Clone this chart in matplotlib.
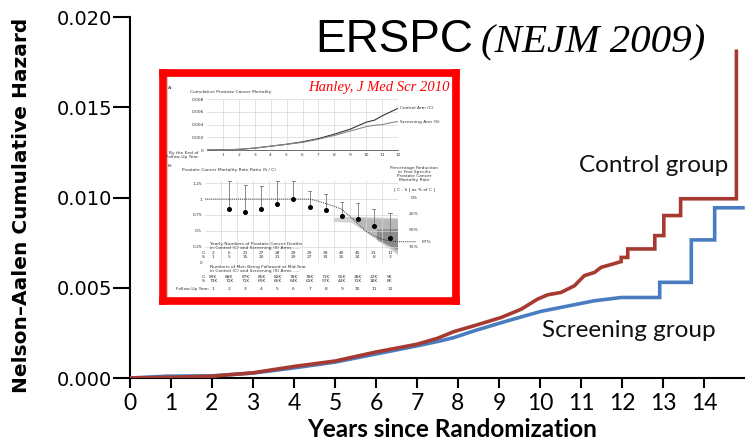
import matplotlib
matplotlib.use("Agg")
import matplotlib.pyplot as plt
from matplotlib.patches import Polygon
from matplotlib import font_manager

# ---------------- main chart data (repeated times = vertical steps) ----------------
control_t = [0, 1.0, 2.0, 3.0, 4.0, 5.0, 6.0, 7.0, 7.5, 7.9, 8.4, 9.05, 9.54, 9.94,
             10.19, 10.51, 10.84, 11.08, 11.33, 11.49, 11.8, 11.98, 11.98, 12.14,
             12.14, 12.8, 12.8, 13.02, 13.02, 13.43, 13.43, 14.79, 14.79]
control_v = [0, 0.00004, 0.0001, 0.00029, 0.00064, 0.00094, 0.00144, 0.00187, 0.0022,
             0.00257, 0.0029, 0.00335, 0.00381, 0.00437, 0.00461, 0.00474, 0.00511,
             0.00567, 0.00585, 0.00613, 0.00633, 0.00645, 0.00668, 0.00668, 0.00715,
             0.00715, 0.00789, 0.00789, 0.0090, 0.0090, 0.00993, 0.00993, 0.0181]
screen_t = [0, 0.9, 2.0, 3.0, 4.0, 5.0, 6.0, 7.0, 7.58, 7.9, 8.39, 9.21, 10.02, 10.84,
            11.33, 11.98, 12.92, 12.92, 13.69, 13.69, 14.26, 14.26, 14.95]
screen_v = [0, 0.0001, 0.00012, 0.00027, 0.00056, 0.00088, 0.00133, 0.00178, 0.00206,
            0.00224, 0.00261, 0.00317, 0.00369, 0.00406, 0.00428, 0.00446, 0.00446,
            0.0053, 0.0053, 0.00765, 0.00765, 0.00943, 0.00943]
x_ticks = list(range(0, 15))
y_ticks = [0.0, 0.005, 0.010, 0.015, 0.020]
y_tick_labels = ["0.000", "0.005", "0.010", "0.015", "0.020"]

# ---------------- inset (Hanley 2010) data ----------------
a_years = [0, 1, 2, 3, 4, 5, 6, 7, 8, 9, 10, 10.5, 11, 11.5, 12]
a_control = [0, 0.00003, 0.0001, 0.0003, 0.0006, 0.0009, 0.0013, 0.0018, 0.0025,
             0.0033, 0.0044, 0.0047, 0.0054, 0.0060, 0.0066]
a_screen = [0, 0.00003, 0.0001, 0.0003, 0.0006, 0.0009, 0.0012, 0.0017, 0.0023,
            0.0030, 0.0037, 0.0039, 0.0040, 0.0043, 0.0045]
b_years = [2, 3, 4, 5, 6, 7, 8, 9, 10, 11, 12]
b_ratio = [0.85, 0.80, 0.85, 0.92, 1.00, 0.87, 0.83, 0.73, 0.69, 0.57, 0.39]
b_upper = [1.28, 1.22, 1.21, 1.28, 1.28, 1.13, 1.08, 0.95, 0.94, 0.85, 0.78]
b_trend_x = [0.5, 7.0, 7.5, 8.0, 8.5, 9.0, 9.5, 10.0, 10.5, 11.0, 11.5, 12.0, 12.5, 13.6]
b_trend_y = [1.0, 1.0, 0.97, 0.93, 0.89, 0.84, 0.73, 0.61, 0.50, 0.42, 0.37, 0.34, 0.33, 0.33]
deaths_c = ["2", "6", "21", "27", "28", "29", "29", "39", "40", "40", "21", "11"]
deaths_s = ["1", "5", "15", "20", "21", "29", "27", "33", "25", "24", "8", "3"]
men_c = ["89K", "88K", "87K", "86K", "82K", "78K", "78K", "71K", "55K", "38K", "22K", "9K"]
men_s = ["73K", "72K", "71K", "69K", "66K", "64K", "61K", "57K", "44K", "31K", "18K", "8K"]

W, H = 745, 444
RED = "#A63A30"
BLUE = "#4A7DC0"

_names = {f.name for f in font_manager.fontManager.ttflist}
NARROW = "Liberation Sans Narrow" if "Liberation Sans Narrow" in _names else "Lato"


def fx(x):
    return x / W


def fy(y):
    return 1 - y / H


fig = plt.figure(figsize=(7.45, 4.44), dpi=100)

ax = fig.add_axes([fx(130), fy(378), fx(745) - fx(130), fy(17) - fy(378)])
ax.plot(screen_t, screen_v, color=BLUE, lw=2.6, zorder=3, solid_joinstyle="miter")
ax.plot(control_t, control_v, color=RED, lw=2.6, zorder=4, solid_joinstyle="miter")
ax.set_xlim(0, 15)
ax.set_ylim(0, 0.020)
ax.set_xticks(x_ticks)
ax.set_xticklabels([str(t) for t in x_ticks], fontfamily=NARROW,
                   fontsize=17.5 if NARROW != "Lato" else 16.5)
ax.set_yticks(y_ticks)
ax.set_yticklabels(y_tick_labels, fontfamily="DejaVu Sans", fontsize=14)
for s in ["top", "right"]:
    ax.spines[s].set_visible(False)
for s in ["left", "bottom"]:
    ax.spines[s].set_linewidth(1.5)
ax.tick_params(axis="y", direction="out", length=12, width=1.5, pad=1)
ax.tick_params(axis="x", direction="out", length=7.5, width=1.5, pad=3)
fig.text(fx(452.5), fy(437), "Years since Randomization", fontsize=17.5,
         fontweight="bold", fontfamily="Lato", ha="center", va="baseline")
fig.text(fx(22), fy(205), "Nelson\u2013Aalen Cumulative Hazard", rotation=90,
         ha="center", va="center", fontsize=14.5, fontweight="bold", fontfamily="DejaVu Sans")

ax.text(12.76, 0.01178, "Control group", fontsize=17.5, fontfamily="Lato", ha="center",
        va="center", color="#111111")
ax.text(12.16, 0.00261, "Screening group", fontsize=17.5, fontfamily="Lato", ha="center",
        va="center", color="#111111")

fig.text(fx(315), fy(52), "ERSPC", fontsize=33, fontfamily="Liberation Sans",
         ha="left", va="baseline")
fig.text(fx(481), fy(52), "(NEJM 2009)", fontsize=29.5, fontfamily="Liberation Serif",
         style="italic", ha="left", va="baseline")

# ---------------- inset frame ----------------
box = fig.add_axes([fx(163), fy(301), fx(456) - fx(163), fy(73) - fy(301)])
box.set_xticks([])
box.set_yticks([])
box.set_facecolor("white")
for s in box.spines.values():
    s.set_color("#FF0000")
    s.set_linewidth(5.5)
box.add_patch(plt.Rectangle((0.012, 0.015), 0.976, 0.97, fill=False, ec="#C8C8C8",
                            lw=0.8, transform=box.transAxes))

tiny = dict(fontsize=3.2, color="#333333", fontfamily="DejaVu Sans")

fig.text(fx(450), fy(88), "Hanley, J Med Scr 2010", fontsize=10.5, color="#FF0000",
         fontfamily="Liberation Serif", style="italic", ha="right", va="center")
fig.text(fx(168), fy(88), "A)", ha="left", va="center", **tiny)
fig.text(fx(190), fy(91.5), "Cumulative Prostate Cancer Mortality", ha="left",
         va="center", **tiny)

# panel A
pa = fig.add_axes([fx(206.7), fy(150), fx(398.3) - fx(206.7), fy(99.3) - fy(150)])
pa.plot(a_years, a_control, color="#333333", lw=0.8)
pa.plot(a_years, a_screen, color="#888888", lw=0.8)
pa.set_xlim(0, 12)
pa.set_ylim(0, 0.008)
pa.set_xticks(range(1, 13))
pa.set_yticks([0, 0.002, 0.004, 0.006, 0.008])
pa.set_yticklabels(["0", "0.002", "0.004", "0.006", "0.008"], **tiny)
pa.set_xticklabels([str(i) for i in range(1, 13)], **tiny)
pa.tick_params(length=0, pad=2)
pa.grid(color="#D8D8D8", lw=0.5)
for s in pa.spines.values():
    s.set_visible(False)
pa.spines["bottom"].set_visible(True)
pa.spines["bottom"].set_color("#555555")
pa.spines["bottom"].set_linewidth(0.6)
fig.text(fx(400), fy(107.7), "Control Arm (C)", ha="left", va="center", **tiny)
fig.text(fx(400), fy(121.7), "Screening Arm (S)", ha="left", va="center", **tiny)
fig.text(fx(199), fy(154.5), "By the End of\nFollow-Up Year:", ha="right",
         va="center", linespacing=1.0, **tiny)

# panel B
fig.text(fx(168), fy(166), "B)", ha="left", va="center", **tiny)
fig.text(fx(181.7), fy(170), "Prostate Cancer Mortality Rate Ratio (S / C)",
         ha="left", va="center", **tiny)
pb = fig.add_axes([fx(205), fy(262.7), fx(398) - fx(205), fy(180) - fy(262.7)])
pb.set_xlim(0.5, 12.5)
pb.set_ylim(0, 1.3)
pb.add_patch(Polygon([(8.5, 0.70), (9.3, 0.72), (10.2, 0.72), (12.5, 0.70),
                      (12.5, 0.12), (10.6, 0.46), (9.6, 0.63), (8.5, 0.64)],
                     closed=True, fc="#D2D2D2", ec="none", zorder=1))
pb.add_patch(Polygon([(9.6, 0.70), (12.5, 0.68), (12.5, 0.16), (10.6, 0.50)],
                     closed=True, fc="#B8B8B8", ec="none", zorder=1))
pb.add_patch(Polygon([(11.2, 0.52), (12.5, 0.53), (12.5, 0.20), (11.2, 0.36)],
                     closed=True, fc="#8C8C8C", ec="none", zorder=1))
pb.plot(b_trend_x, b_trend_y, color="#333333", lw=0.7, ls=(0, (1, 1)),
        clip_on=False, zorder=3)
for yr, r, u in zip(b_years, b_ratio, b_upper):
    pb.plot([yr, yr], [r, u], color="#777777", lw=0.6, zorder=2)
    pb.plot([yr - 0.1, yr + 0.1], [u, u], color="#777777", lw=0.6, zorder=2)
pb.plot(b_years, b_ratio, "o", color="black", ms=2.6, zorder=4)
pb.set_yticks([0, 0.25, 0.5, 0.75, 1.0, 1.25])
pb.set_yticklabels(["0", "0.25", "0.5", "0.75", "1", "1.25"], **tiny)
pb.set_xticks([i + 0.5 for i in range(1, 12)])
pb.set_xticklabels([])
pb.tick_params(length=0, pad=2)
pb.grid(color="#D8D8D8", lw=0.5)
for s in pb.spines.values():
    s.set_visible(False)

fig.text(fx(414), fy(174), "Percentage Reduction\nin Year-Specific\nProstate Cancer\nMortality Rate",
         ha="center", va="center", linespacing=1.0, **tiny)
fig.text(fx(414), fy(189.3), "[ C - S ] as % of C ]", ha="center", va="center", **tiny)
for lab, yy in zip(["0%", "25%", "50%", "75%"], [198.3, 214.3, 230.3, 246.7]):
    fig.text(fx(414), fy(yy), lab, ha="center", va="center", **tiny)
fig.text(fx(422), fy(241.7), "67%", ha="left", va="center", **tiny)

fig.text(fx(210), fy(245.5), "Yearly Numbers of Prostate Cancer Deaths\nin Control (C) and Screening (S) Arms .....",
         ha="left", va="center", linespacing=1.0, **tiny)
fig.text(fx(210), fy(268.7), "Numbers of Men Being Followed at Mid-Year\nin Control (C) and Screening (S) Arms .....",
         ha="left", va="center", linespacing=1.0, **tiny)
fig.text(fx(193), fy(289.3), "Follow-Up Year:", ha="center", va="center", **tiny)
year_x = [213.3 + i * 16.05 for i in range(12)]
for i in range(12):
    fig.text(fx(year_x[i]), fy(252.7), deaths_c[i], ha="center", va="center", **tiny)
    fig.text(fx(year_x[i]), fy(256.7), deaths_s[i], ha="center", va="center", **tiny)
    fig.text(fx(year_x[i]), fy(276.7), men_c[i], ha="center", va="center", **tiny)
    fig.text(fx(year_x[i]), fy(280.7), men_s[i], ha="center", va="center", **tiny)
    fig.text(fx(year_x[i]), fy(289.3), str(i + 1), ha="center", va="center", **tiny)
for lab, yy in [("C:", 252.7), ("S:", 256.7), ("C:", 276.7), ("S:", 280.7)]:
    fig.text(fx(204), fy(yy), lab, ha="center", va="center", **tiny)

fig.savefig("out.png", dpi=100)
